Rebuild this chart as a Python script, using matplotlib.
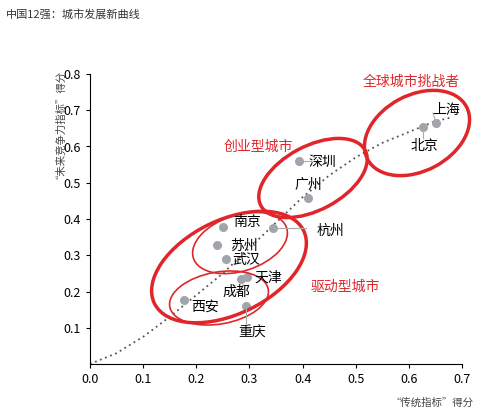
import matplotlib
matplotlib.use("Agg")
import matplotlib.pyplot as plt
from matplotlib.patches import Ellipse
import matplotlib.transforms as mt
import numpy as np

plt.rcParams['font.family'] = ['Noto Sans CJK SC', 'DejaVu Sans']

cities = ["上海", "北京", "深圳", "广州", "杭州", "南京", "苏州", "武汉", "天津", "成都", "西安", "重庆"]
trad = [0.652, 0.627, 0.394, 0.410, 0.345, 0.250, 0.239, 0.256, 0.296, 0.284, 0.177, 0.294]
future = [0.664, 0.653, 0.559, 0.457, 0.375, 0.377, 0.328, 0.289, 0.240, 0.234, 0.176, 0.160]
curve_x = [0.0, 0.05, 0.1, 0.15, 0.2, 0.25, 0.3, 0.35, 0.4, 0.45, 0.5, 0.55, 0.6, 0.65, 0.68]
curve_y = [0.0, 0.03, 0.075, 0.13, 0.19, 0.25, 0.32, 0.39, 0.46, 0.52, 0.57, 0.61, 0.64, 0.67, 0.68]

W, H = 499, 419
fig = plt.figure(figsize=(W/100, H/100), dpi=100)
ax = fig.add_axes([90/W, 1-364/H, (462-90)/W, (364-74)/H])
ax.set_xlim(0, 0.7); ax.set_ylim(0, 0.8)
ax.set_xticks(np.arange(0, 0.71, 0.1)); ax.set_yticks(np.arange(0.1, 0.81, 0.1))
ax.set_xticklabels([f"{v:.1f}" for v in np.arange(0, 0.71, 0.1)])
ax.set_yticklabels([f"{v:.1f}" for v in np.arange(0.1, 0.81, 0.1)])
for s in ["top", "right"]:
    ax.spines[s].set_visible(False)
ax.tick_params(labelsize=9, length=3)
ax.plot(curve_x, curve_y, ls=(0, (1, 2)), color="#555555", lw=1.3)
ax.scatter(trad, future, s=30, color="#a0a4ab", zorder=3)

def px(x, y):
    return (x, H - y)
red = "#e0262b"
ells = [(417, 133, 112, 76, 28, 2.5), (313, 178, 118, 64, 28, 2.5), (229, 267, 166, 94, 26, 2.5),
        (240, 243, 98, 56, 18, 1.2), (219, 298, 100, 52, 10, 1.2)]
for cx, cy, w, h, a, lw in ells:
    fig.patches.append(Ellipse(px(cx, cy), w, h, angle=a, fill=False, ec=red, lw=lw,
                               transform=mt.IdentityTransform(), figure=fig))

lbl = [("上海", 446, 110), ("北京", 424, 146), ("深圳", 322, 162), ("广州", 308, 185), ("杭州", 330, 231),
       ("南京", 247, 222), ("苏州", 244, 246), ("武汉", 246, 260), ("天津", 268, 278), ("成都", 236, 292),
       ("西安", 205, 307), ("重庆", 252, 333)]
for t, x, y in lbl:
    fig.text(x/W, 1-y/H, t, fontsize=10, ha="center", va="center")
lines = [((436, 123), (433, 113)), ((423, 127), (423, 138)), ((299, 161), (311, 161)),
         ((273, 228), (306, 228)), ((246, 306), (246, 323))]
for (x1, y1), (x2, y2) in lines:
    fig.add_artist(plt.Line2D([x1/W, x2/W], [1-y1/H, 1-y2/H], color="#aaaaaa", lw=0.8, transform=fig.transFigure))

fig.text(411/W, 1-82/H, "全球城市挑战者", color=red, fontsize=10, ha="center", va="center")
fig.text(258/W, 1-147/H, "创业型城市", color=red, fontsize=10, ha="center", va="center")
fig.text(345/W, 1-287/H, "驱动型城市", color=red, fontsize=10, ha="center", va="center")
fig.text(6/W, 1-14/H, "中国12强：城市发展新曲线", fontsize=8, ha="left", va="center", color="#333333")
fig.text(55/W, 1-122/H, "“未来竞争力指标”得分", fontsize=7.5, rotation=90, ha="center", va="center", color="#444444")
fig.text(432/W, 1-403/H, "“传统指标”得分", fontsize=7.5, ha="center", va="center", color="#444444")
fig.savefig("out.png", dpi=100)
